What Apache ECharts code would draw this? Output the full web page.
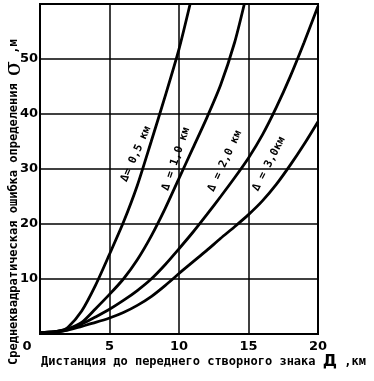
<!DOCTYPE html>
<html>
<head>
<meta charset="utf-8">
<script src="https://cdn.jsdelivr.net/npm/echarts@6/dist/echarts.min.js"></script>
<style>
html,body{margin:0;padding:0;background:#fff;}
#c{width:374px;height:381px;}
</style>
</head>
<body>
<div id="c"></div>
<script>
// Distance to front range mark D, km
const d05 = [0, 1, 1.5, 2, 3, 4, 5, 6, 7, 8, 9, 10, 10.8];
const s05 = [0.3, 0.4, 0.6, 1.2, 4.2, 8.9, 14.5, 20.3, 27, 35, 43.2, 51.8, 60];

const d10 = [0, 1, 1.5, 2, 3, 4, 5, 6, 7, 8, 9, 10, 11, 12, 13, 14, 14.7];
const s10 = [0.3, 0.4, 0.6, 0.9, 2.1, 4.6, 7.2, 10, 13.5, 17.8, 22.8, 28.3, 33.8, 39.3, 45.3, 53, 60];

const d20 = [0, 1, 1.5, 2, 3, 4, 5, 6, 7, 8, 9, 10, 11, 12, 13, 14, 15, 16, 17, 18, 19, 20];
const s20 = [0.3, 0.4, 0.5, 0.8, 1.8, 3.1, 4.5, 6.1, 7.9, 10, 12.6, 15.5, 18.5, 21.7, 25, 28.4, 32, 36.2, 41.2, 46.8, 53, 59.6];

const d30 = [0, 1, 1.5, 2, 3, 4, 5, 6, 7, 8, 9, 10, 11, 12, 13, 14, 15, 16, 17, 18, 19, 20];
const s30 = [0.3, 0.4, 0.5, 0.7, 1.4, 2.1, 2.9, 3.9, 5.2, 6.8, 8.8, 11, 13.1, 15.2, 17.4, 19.5, 21.7, 24.2, 27.2, 30.7, 34.5, 38.6];

const curveLabels = ['Δ= 0,5 км', 'Δ = 1,0 км', 'Δ = 2,0 км', 'Δ = 3,0км'];
const yName = 'Среднеквадратическая ошибка определения';
const xName = 'Дистанция до переднего створного знака';

const zip = (a, b) => a.map((v, i) => [v, b[i]]);

const chart = echarts.init(document.getElementById('c'), null, {renderer: 'canvas'});
const mono = '"DejaVu Sans Mono", monospace';
const lineSeries = (data) => ({
  type: 'line', data: data, smooth: 0.25, showSymbol: false, symbol: 'none',
  lineStyle: {color: '#000', width: 2.8}, clip: true, silent: true
});

const labelStyle = {fill: '#000', font: 'bold 11px ' + mono};
const rotLabel = (text, x, y, deg) => ({
  type: 'text', x: x, y: y, rotation: deg * Math.PI / 180,
  style: Object.assign({text: text, align: 'center', verticalAlign: 'middle'}, labelStyle)
});

chart.setOption({
  animation: false,
  backgroundColor: '#fff',
  grid: {left: 40, right: 56, top: 4, bottom: 47, show: true, borderColor: '#000', borderWidth: 2, backgroundColor: 'transparent'},
  xAxis: {
    type: 'value', min: 0, max: 20, interval: 5,
    axisLine: {show: true, lineStyle: {color: '#000', width: 2}},
    axisTick: {show: false},
    splitLine: {show: true, lineStyle: {color: '#000', width: 1.5}},
    axisLabel: {
      color: '#000', fontFamily: 'DejaVu Sans', fontWeight: 'bold', fontSize: 13, margin: 6,
      formatter: v => v === 0 ? '{z|0}' : String(v),
      rich: {z: {padding: [0, 26, 0, 0], color: '#000', fontFamily: 'DejaVu Sans', fontWeight: 'bold', fontSize: 13}}
    }
  },
  yAxis: {
    type: 'value', min: 0, max: 60, interval: 10,
    axisLine: {show: true, lineStyle: {color: '#000', width: 2}},
    axisTick: {show: false},
    splitLine: {show: true, lineStyle: {color: '#000', width: 1.5}},
    axisLabel: {
      color: '#000', fontFamily: 'DejaVu Sans', fontWeight: 'bold', fontSize: 13, margin: 2,
      formatter: v => (v === 0 || v === 60) ? '' : String(v)
    }
  },
  series: [
    lineSeries(zip(d05, s05)),
    lineSeries(zip(d10, s10)),
    lineSeries(zip(d20, s20)),
    lineSeries(zip(d30, s30))
  ],
  graphic: [
    rotLabel(curveLabels[0], 136, 154, 66),
    rotLabel(curveLabels[1], 176, 159, 71),
    rotLabel(curveLabels[2], 225, 161, 65),
    rotLabel(curveLabels[3], 269, 164, 63),
    {
      type: 'text', x: 14, y: 365, rotation: Math.PI / 2,
      style: {
        text: '{a|' + yName + ' }{s|σ}{a| ,м}',
        align: 'left', verticalAlign: 'middle',
        rich: {
          a: {fill: '#000', font: 'bold 12px ' + mono},
          s: {fill: '#000', font: '22px "DejaVu Serif", serif'}
        }
      }
    },
    {
      type: 'text', x: 41, y: 362,
      style: {
        text: '{a|' + xName + ' }{d|Д}{a| ,км}',
        align: 'left', verticalAlign: 'middle',
        rich: {
          a: {fill: '#000', font: 'bold 12px ' + mono},
          d: {fill: '#000', font: 'bold 16px "DejaVu Sans"'}
        }
      }
    }
  ]
});
</script>
</body>
</html>
